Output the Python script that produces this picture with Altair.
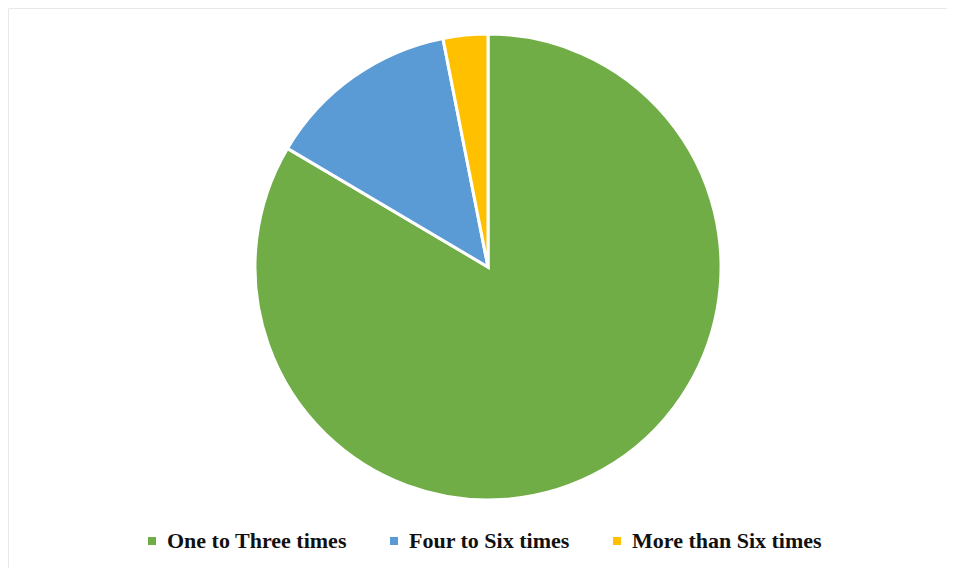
import altair as alt
import pandas as pd

categories = ["One to Three times", "Four to Six times", "More than Six times"]
values = [83.5, 13.4, 3.1]
colors = ["#70AD47", "#5B9BD5", "#FFC000"]
order = [1, 2, 3]

df = pd.DataFrame({"category": categories, "value": values, "order": order})

pie = alt.Chart(df).mark_arc(
    radius=233, stroke="white", strokeWidth=3
).encode(
    theta=alt.Theta("value:Q", stack=True),
    order=alt.Order("order:Q", sort="ascending"),
    x=alt.value(480),
    y=alt.value(259),
    color=alt.Color(
        "category:N",
        sort=categories,
        scale=alt.Scale(domain=categories, range=colors),
        legend=alt.Legend(
            title=None,
            orient="none",
            direction="horizontal",
            legendX=133,
            legendY=522,
            symbolType="square",
            symbolSize=64,
            symbolStrokeWidth=0,
            labelFont="Liberation Serif",
            labelFontSize=22,
            labelFontWeight="bold",
            labelColor="#111111",
            labelOffset=4,
            labelLimit=0,
            columnPadding=36,
        ),
    ),
)

chart = pie.properties(
    width=939, height=560, padding=0, autosize=alt.AutoSizeParams(type="none")
).configure_view(stroke="#e8e8e8", strokeWidth=1)

chart.save("out.html", embed_options={"renderer": "svg", "actions": False})
